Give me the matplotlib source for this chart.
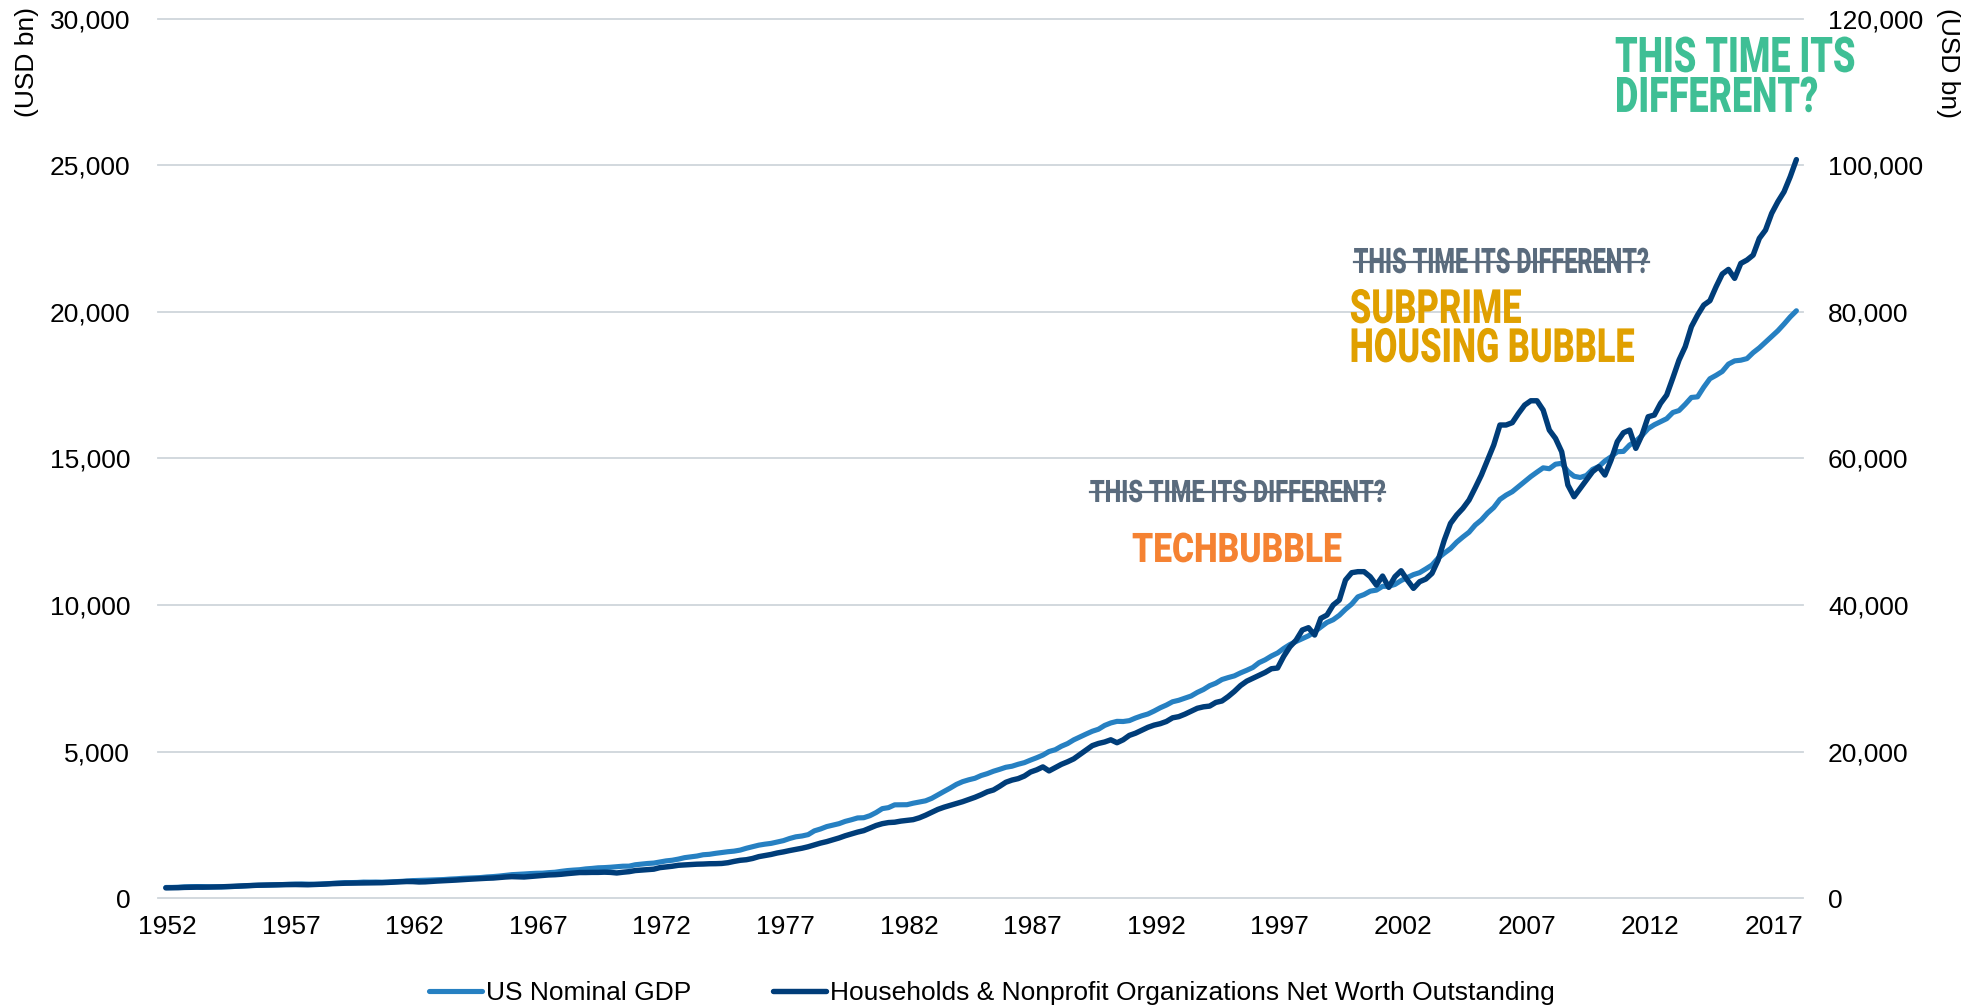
import numpy as np
import matplotlib
matplotlib.use('Agg')
import matplotlib.pyplot as plt
from matplotlib.ticker import FuncFormatter
from matplotlib.patheffects import AbstractPathEffect
from matplotlib.transforms import Affine2D

plt.rcParams['font.family'] = ['Liberation Sans', 'DejaVu Sans']

# quarterly series, 1952Q1 .. 2018Q1, USD bn
gdp = [
    360, 361, 368, 381,    388, 391, 390, 382,    381, 382, 387, 394,
    407, 417, 428, 435,    439, 446, 451, 461,    469, 473, 480, 475,
    468, 473, 487, 500,    511, 525, 526, 531,    544, 542, 545, 541,
    545, 555, 567, 581,    594, 600, 608, 615,    622, 631, 646, 656,
    671, 681, 693, 699,    719, 732, 750, 773,    797, 807, 820, 834,
    844, 848, 866, 880,    910, 936, 953, 966,    994, 1010, 1031, 1038,
    1051, 1068, 1086, 1088,    1135, 1157, 1179, 1193,    1230, 1267, 1290, 1329,
    1378, 1407, 1433, 1477,    1492, 1525, 1552, 1580,    1600, 1636, 1699, 1752,
    1804, 1838, 1865, 1912,    1959, 2032, 2089, 2117,    2164, 2292, 2357, 2438,
    2489, 2538, 2616, 2671,    2733, 2741, 2810, 2918,    3051, 3085, 3180, 3183,
    3185, 3236, 3275, 3317,    3402, 3521, 3638, 3753,    3878, 3971, 4035, 4087,
    4180, 4245, 4327, 4392,    4462, 4498, 4565, 4620,    4707, 4788, 4878, 5000,
    5061, 5180, 5271, 5398,    5498, 5596, 5691, 5761,    5890, 5975, 6029, 6024,
    6054, 6143, 6218, 6280,    6380, 6492, 6586, 6698,    6749, 6821, 6894, 7017,
    7116, 7247, 7332, 7457,    7523, 7581, 7683, 7772,    7869, 8032, 8131, 8259,
    8363, 8518, 8651, 8755,    8850, 8948, 9084, 9248,    9404, 9497, 9649, 9854,
    10031, 10278, 10357, 10472,    10508, 10638, 10639, 10702,    10835, 10935, 11037, 11104,
    11231, 11364, 11599, 11770,    11925, 12144, 12320, 12484,    12730, 12904, 13139, 13327,
    13603, 13750, 13867, 14038,    14209, 14383, 14535, 14681,    14651, 14805, 14835, 14559,
    14394, 14352, 14420, 14629,    14722, 14915, 15058, 15231,    15242, 15461, 15588, 15786,
    16019, 16152, 16257, 16358,    16570, 16637, 16849, 17083,    17104, 17433, 17722, 17839,
    17970, 18221, 18331, 18354,    18409, 18612, 18776, 18969,    19163, 19359, 19588, 19831,
    20041,
]

net_worth = [
    1382, 1390, 1410, 1450,    1470, 1480, 1475, 1490,    1500, 1530, 1560, 1600,
    1640, 1680, 1720, 1750,    1770, 1790, 1800, 1820,    1830, 1840, 1820, 1810,
    1840, 1870, 1910, 1960,    1990, 2020, 2030, 2050,    2060, 2070, 2070, 2090,
    2130, 2170, 2200, 2250,    2240, 2190, 2210, 2270,    2320, 2360, 2400, 2450,
    2510, 2560, 2610, 2650,    2700, 2730, 2800, 2870,    2920, 2900, 2870, 2940,
    3020, 3080, 3150, 3180,    3240, 3330, 3400, 3480,    3480, 3500, 3500, 3530,
    3500, 3420, 3520, 3600,    3750, 3810, 3870, 3940,    4150, 4250, 4340, 4470,
    4520, 4560, 4620, 4640,    4680, 4690, 4720, 4820,    5000, 5150, 5230, 5400,
    5650, 5800, 5950, 6150,    6300, 6480, 6640, 6800,    7000, 7250, 7500, 7700,
    7950, 8200, 8500, 8750,    9000, 9200, 9550, 9900,    10150, 10300, 10350, 10500,
    10600, 10700, 10950, 11300,    11700, 12100, 12400, 12650,    12900, 13150, 13450, 13750,
    14100, 14500, 14750, 15250,    15800, 16100, 16300, 16650,    17200, 17500, 17900, 17350,
    17800, 18250, 18600, 19000,    19600, 20200, 20800, 21100,    21300, 21600, 21200, 21600,
    22200, 22500, 22900, 23300,    23600, 23800, 24100, 24600,    24760, 25100, 25500, 25900,
    26100, 26200, 26700, 26900,    27500, 28200, 29000, 29600,    30000, 30400, 30800, 31300,
    31400, 33000, 34300, 35200,    36580, 36900, 35900, 38180,    38630, 40000, 40680, 43410,
    44410, 44550, 44550, 43860,    42720, 43950, 42410, 43860,    44680, 43410, 42270, 43180,
    43540, 44320, 46140, 48870,    51140, 52280, 53190, 54330,    56000, 57740, 59790, 61840,
    64570, 64570, 64890, 66150,    67290, 67880, 67880, 66610,    63880, 62740, 60920, 56380,
    54780, 55920, 57060, 58200,    58880, 57740, 59790, 62290,    63520, 63880, 61380, 63200,
    65700, 65930, 67520, 68660,    71000, 73440, 75260, 77990,    79580, 80940, 81540, 83450,
    85180, 85810, 84590, 86630,    87090, 87770, 90050, 91180,    93460, 95050, 96410, 98460,
    100800,
]

year_ticks = list(range(1952, 2018, 5))
series_names = ['US Nominal GDP',
                'Households & Nonprofit Organizations Net Worth Outstanding']

GDP_COLOR = '#2680C2'
NW_COLOR = '#003D79'
GRID_COLOR = '#CFD6DB'
STRIKE_GRAY = '#5A6B7D'


class Tall(AbstractPathEffect):
    """Draw text glyphs stretched vertically above a fixed baseline (pixels)."""

    def __init__(self, sy, y0):
        super().__init__()
        self.sy = sy
        self.y0 = y0

    def draw_path(self, renderer, gc, tpath, affine, rgbFace=None):
        tall = Affine2D().translate(0, -self.y0).scale(1, self.sy).translate(0, self.y0)
        renderer.draw_path(gc, tpath, affine + tall, rgbFace)


quarters = 1951.92 + 0.25 * np.arange(len(gdp))

fig = plt.figure(figsize=(19.84, 10.08), dpi=100)
ax = fig.add_axes([0.0796, 0.1091, 0.8292, 0.8721])
ax2 = ax.twinx()

l1, = ax.plot(quarters, gdp, color=GDP_COLOR, lw=3.7, solid_joinstyle='round',
              solid_capstyle='round', label=series_names[0])
l2, = ax2.plot(quarters, net_worth, color=NW_COLOR, lw=3.9, solid_joinstyle='round',
               solid_capstyle='round', label=series_names[1])

ax.set_xlim(1951.6, 2018.19)
ax.set_ylim(0, 30000)
ax2.set_ylim(0, 120000)
ax.set_xticks(year_ticks)
ax.set_yticks(range(0, 30001, 5000))
ax2.set_yticks(range(0, 120001, 20000))

thousands = FuncFormatter(lambda v, p: f'{v:,.0f}')
ax.yaxis.set_major_formatter(thousands)
ax2.yaxis.set_major_formatter(thousands)

ax.grid(axis='y', color=GRID_COLOR, lw=1.3)
ax.set_axisbelow(True)
for gl in ax.get_ygridlines():
    gl.set_clip_on(False)

for a in (ax, ax2):
    for s in a.spines.values():
        s.set_visible(False)
ax.tick_params(axis='x', length=0, labelsize=19, pad=12)
ax.tick_params(axis='y', length=0, labelsize=19, pad=20)
ax2.tick_params(axis='y', length=0, labelsize=19, pad=18)

fig.text(27 / 1984, 1 - 62 / 1008, '(USD bn)', rotation=90, fontsize=19,
         ha='center', va='center')
fig.text(1948 / 1984, 1 - 63 / 1008, '(USD bn)', rotation=270, fontsize=19,
         ha='center', va='center')

fig.legend([l1, l2], series_names, loc='center', bbox_to_anchor=(0.5, 1 - 993 / 1008),
           ncol=2, frameon=False, fontsize=19, handlelength=2.0,
           handletextpad=0.15, columnspacing=3.1)

# bubble callouts: (text, x, baseline, colour, cap size, width in px, align, struck out)
heavy = dict(family=['Roboto', 'Liberation Sans'], weight='black')
callouts = [
    ('THIS TIME ITS', 2010.58, 28191, '#3FBF95', 35.4, 240, 'left', False),
    ('DIFFERENT?', 2010.58, 26826, '#3FBF95', 35.4, 203, 'left', False),
    ('THIS TIME ITS DIFFERENT?', 2000.0, 21331, STRIKE_GRAY, 25.3, 295, 'left', True),
    ('SUBPRIME', 1999.84, 19625, '#E0A000', 34, 172, 'left', False),
    ('HOUSING BUBBLE', 1999.84, 18294, '#E0A000', 34, 285, 'left', False),
    ('THIS TIME ITS DIFFERENT?', 1995.30, 13515, STRIKE_GRAY, 22.3, 295, 'center', True),
    ('TECHBUBBLE', 1995.28, 11468, '#F58232', 29.4, 210, 'center', False),
]
labels = []
for text, x, y, color, size, width, ha, struck in callouts:
    t = ax.text(x, y, text, color=color, fontsize=size, ha=ha, va='baseline', **heavy)
    labels.append((t, size, width, struck))

# condensed look: shrink each label to its width, then stretch it back up to cap height
fig.canvas.draw()
renderer = fig.canvas.get_renderer()
inv = ax.transData.inverted()
for t, size, width, struck in labels:
    bb = t.get_window_extent(renderer)
    x0, base = ax.transData.transform(t.get_position())
    k = width / bb.width
    t.set_fontsize(size * k)
    t.set_path_effects([Tall(1 / k, base)])
    if struck:
        cap = size * fig.dpi / 72 * 0.711
        ys = base + 0.45 * cap
        left = x0 + (bb.x0 - x0) * k
        right = x0 + (bb.x1 - x0) * k
        (xa, ya), (xb, _) = inv.transform([(left, ys), (right, ys)])
        ax.plot([xa, xb], [ya, ya], color=STRIKE_GRAY, lw=1.6,
                scalex=False, scaley=False)

fig.savefig('out.png', dpi=100)
